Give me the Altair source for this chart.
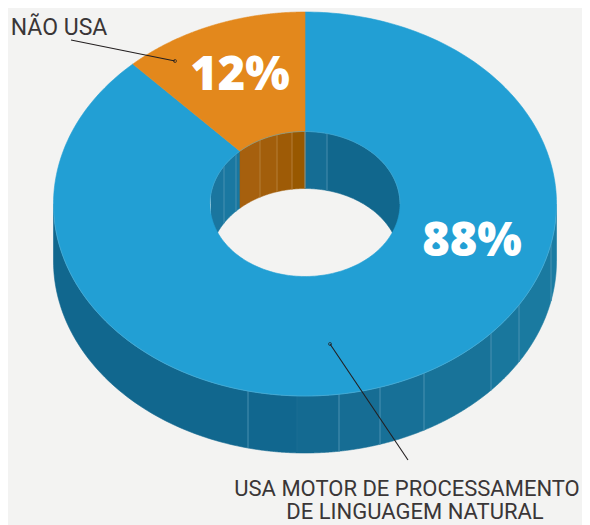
import math
import altair as alt

# --- chart values ---
shares = [88, 12]
share_labels = ["88%", "12%"]
slice_names = ["USA MOTOR DE PROCESSAMENTO", "NÃO USA"]
slice_fills = ["#229fd4", "#e3881c"]
line_two = "DE LINGUAGEM NATURAL"

# facet boundaries of the walls (reference x) and their shades
outer_edges = [54, 248, 297, 339, 380, 424, 491, 519, 551, 557]
outer_shades = ["#11678e", "#11678f", "#146a91", "#166d94", "#177097",
                "#187399", "#19779d", "#1a7aa0", "#1b7ca3"]
inner_edges = [211, 224, 236, 240, 260, 277, 292, 305, 327, 400]
inner_shades = ["#1a769f", "#1a78a1", "#1877a0", "#a6600e", "#a25e0b",
                "#9e5b06", "#985800", "#156d94", "#11678d"]
inner_lines = {224: "#4f93b3", 236: "#4f93b3", 260: "#b98440", 277: "#b98440",
               292: "#b98440", 305: "#b89a70", 327: "#4f93b3"}

# --- pie geometry ---
OFF = 8
CX, CY = 305 - OFF, 204 - OFF
RX, RY = 251.5, 192
IX, IY = 95, 72.5
DEPTH = 57


def pt(theta, rx, ry, dy=0):
    return [CX + rx * math.sin(theta), CY - ry * math.cos(theta) + dy]


def arc(a, b, rx, ry, dy=0, n=120):
    return [pt(a + (b - a) * i / n, rx, ry, dy) for i in range(n + 1)]


def poly(ring, fill):
    ring = ring + [ring[0]]
    return {"type": "Feature", "properties": {"fill": fill},
            "geometry": {"type": "Polygon", "coordinates": [ring]}}


def line(points, color):
    return {"type": "Feature", "properties": {"fill": color},
            "geometry": {"type": "LineString", "coordinates": points}}


def front_angle(x):  # front half of the ellipse
    return math.pi - math.asin(max(-1, min(1, (x - 305) / RX)))


def back_angle(x):  # back half of the hole
    return math.asin(max(-1, min(1, (x - 305) / IX)))


walls, wall_lines = [], []
for i, shade in enumerate(outer_shades):
    a, b = front_angle(outer_edges[i]), front_angle(outer_edges[i + 1])
    if i == 0:
        a = 1.5 * math.pi
    if i == len(outer_shades) - 1:
        b = 0.5 * math.pi
    walls.append(poly(arc(a, b, RX, RY, 0, 60) + arc(b, a, RX, RY, DEPTH, 60), shade))
    if i > 0:
        wall_lines.append(line([pt(a, RX, RY), pt(a, RX, RY, DEPTH)],
                               "#1b6f95" if outer_edges[i] == 297 else "#5196b6"))
for i, shade in enumerate(inner_shades):
    a, b = back_angle(inner_edges[i]), back_angle(inner_edges[i + 1])
    walls.append(poly(arc(a, b, IX, IY, 0, 40) + arc(b, a, IX, IY, DEPTH, 40), shade))
    if inner_edges[i] in inner_lines:
        wall_lines.append(line([pt(a, IX, IY), pt(a, IX, IY, DEPTH)], inner_lines[inner_edges[i]]))

faces, t = [], 0.0
for share, fill in zip(shares, slice_fills):
    a, b = t, t + 2 * math.pi * share / sum(shares)
    faces.append(poly(arc(a, b, RX, RY, 0, 300) + arc(b, a, IX, IY, 0, 200), fill))
    t = b

rims = [
    line(arc(0.5 * math.pi, 1.5 * math.pi, RX, RY), "#5fb4d8"),
    line(arc(-0.5 * math.pi, 0.5 * math.pi, IX, IY), "#4aa6cc"),
]


def geo(features, filled=True, width=0.6):
    base = alt.Chart(alt.Data(values=features))
    if filled:
        return base.mark_geoshape(strokeWidth=width).encode(
            fill=alt.Fill("properties.fill:N", scale=None),
            stroke=alt.Stroke("properties.fill:N", scale=None),
        )
    return base.mark_geoshape(filled=False, strokeWidth=width).encode(
        stroke=alt.Stroke("properties.fill:N", scale=None)
    )


DARK = "#231f20"
SANS = "Roboto"
INK = "#3a3637"


def label(text, x, y, size, color=INK, weight="normal", font=SANS):
    return alt.Chart(alt.Data(values=[{"t": text}])).mark_text(
        fontSize=size, font=font, fontWeight=weight, color=color, align="center", baseline="alphabetic"
    ).encode(x=alt.value(x - OFF), y=alt.value(y - OFF), text="t:N")


def leader(x1, y1, x2, y2):
    seg = alt.Chart(alt.Data(values=[{"a": 1}])).mark_rule(color=DARK, strokeWidth=1.1).encode(
        x=alt.value(x1 - OFF), y=alt.value(y1 - OFF), x2=alt.value(x2 - OFF), y2=alt.value(y2 - OFF)
    )
    dot = alt.Chart(alt.Data(values=[{"a": 1}])).mark_point(
        color=DARK, size=9, strokeWidth=1, filled=False
    ).encode(x=alt.value(x2 - OFF), y=alt.value(y2 - OFF))
    return seg + dot


chart = alt.layer(
    geo(walls),
    geo(wall_lines, filled=False, width=0.9),
    geo(faces),
    geo(rims, filled=False, width=0.5),
    leader(71, 40, 175, 61),
    leader(408, 460, 330, 344),
    label(share_labels[1], 240, 90, 47, "#ffffff", 800, "Open Sans"),
    label(share_labels[0], 472, 256, 47, "#ffffff", 800, "Open Sans"),
    label(slice_names[1], 59, 35, 23),
    label(slice_names[0], 407, 496, 22),
    label(line_two, 415, 519, 22),
).project(type="identity", scale=1, translate=[0, 0]).properties(
    width=574, height=517, padding=0, autosize="none", background="#f3f3f2"
).configure_view(stroke=None)

chart.save("out.html", embed_options={"renderer": "svg", "actions": False})
